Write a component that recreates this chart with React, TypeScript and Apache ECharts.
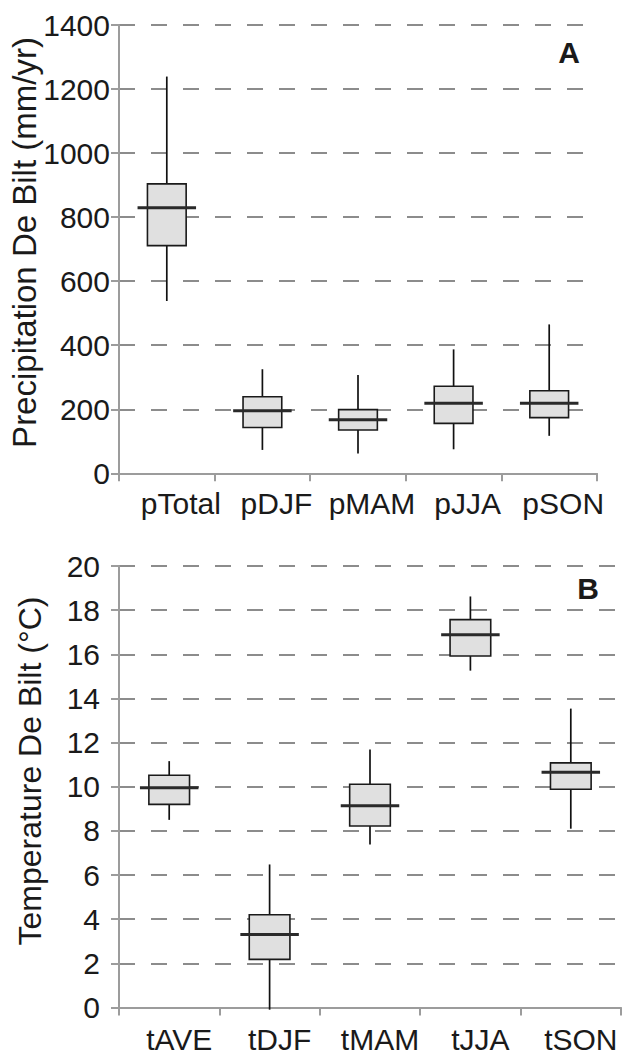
import React, { useEffect, useRef } from "react";
import * as echarts from "echarts";

// Panel A: precipitation (mm/yr)
const pCategories = ["pTotal", "pDJF", "pMAM", "pJJA", "pSON"];
const pMin = [538, 73, 62, 75, 117];
const pQ1 = [711, 143, 135, 156, 174];
const pMedian = [829, 195, 167, 219, 219];
const pQ3 = [904, 239, 199, 272, 258];
const pMax = [1239, 325, 307, 387, 465];

// Panel B: temperature (°C)
const tCategories = ["tAVE", "tDJF", "tMAM", "tJJA", "tSON"];
const tMin = [8.5, -0.1, 7.38, 15.26, 8.1];
const tQ1 = [9.2, 2.18, 8.22, 15.92, 9.89];
const tMedian = [9.95, 3.31, 9.14, 16.88, 10.66];
const tQ3 = [10.52, 4.2, 10.11, 17.57, 11.08];
const tMax = [11.16, 6.48, 11.69, 18.62, 13.54];

const FONT = '"Liberation Sans", Arial, Helvetica, sans-serif';
const AXIS_COLOR = "#9c9c9c";
const GRID_COLOR = "#8c8c8c";
const TEXT_COLOR = "#1a1a1a";

function buildData(mins: number[], q1: number[], med: number[], q3: number[], maxs: number[]) {
  return mins.map((m, i) => [i, m, q1[i], med[i], q3[i], maxs[i]]);
}

function renderBox(params: any, api: any) {
  const x = api.value(0);
  const pMinC = api.coord([x, api.value(1)]);
  const pQ1C = api.coord([x, api.value(2)]);
  const pMedC = api.coord([x, api.value(3)]);
  const pQ3C = api.coord([x, api.value(4)]);
  const pMaxC = api.coord([x, api.value(5)]);
  const band = api.size([1, 0])[0];
  const bw = band * 0.405;
  const mw = 58.5;
  const cx = pMedC[0];
  return {
    type: "group",
    children: [
      {
        type: "line",
        shape: { x1: cx, y1: pMinC[1], x2: cx, y2: pMaxC[1] },
        style: { stroke: "#111111", lineWidth: 1.7 },
      },
      {
        type: "rect",
        shape: { x: cx - bw / 2, y: pQ3C[1], width: bw, height: pQ1C[1] - pQ3C[1] },
        style: { fill: "#e0e0e0", stroke: "#1a1a1a", lineWidth: 1.6 },
      },
      {
        type: "line",
        shape: { x1: cx - mw / 2, y1: pMedC[1], x2: cx + mw / 2, y2: pMedC[1] },
        style: { stroke: "#2a2a2a", lineWidth: 3 },
      },
    ],
  };
}

export default function App() {
  const ref = useRef<HTMLDivElement>(null);

  useEffect(() => {
    document.body.style.margin = "0";
    if (!ref.current) return;
    const chart = echarts.init(ref.current, null, { renderer: "svg" });

    const axisLineStyle = { color: AXIS_COLOR, width: 2 };
    const splitLine = {
      show: true,
      lineStyle: { type: [16, 16] as any, color: GRID_COLOR, width: 2 },
    };
    const plainNum = (v: number) => String(v);

    chart.setOption({
      animation: false,
      backgroundColor: "#ffffff",
      grid: [
        { left: 119, right: 25, top: 25, height: 448.3 },
        { left: 119, right: 1, top: 566, height: 441.5 },
      ],
      xAxis: [
        {
          type: "category",
          gridIndex: 0,
          data: pCategories,
          axisLine: { show: true, lineStyle: axisLineStyle },
          axisTick: { show: true, length: 8, lineStyle: axisLineStyle },
          axisLabel: {
            fontSize: 30,
            fontFamily: FONT,
            color: TEXT_COLOR,
            margin: 15,
            padding: [0, 0, 0, 28],
            interval: 0,
          },
          splitLine: { show: false },
        },
        {
          type: "category",
          gridIndex: 1,
          data: tCategories,
          axisLine: { show: true, lineStyle: axisLineStyle },
          axisTick: { show: true, length: 8, lineStyle: axisLineStyle },
          axisLabel: {
            fontSize: 30,
            fontFamily: FONT,
            color: TEXT_COLOR,
            margin: 17,
            padding: [0, 0, 0, 20],
            interval: 0,
          },
          splitLine: { show: false },
        },
      ],
      yAxis: [
        {
          type: "value",
          gridIndex: 0,
          min: 0,
          max: 1400,
          interval: 200,
          axisLine: { show: true, lineStyle: axisLineStyle },
          axisTick: { show: true, length: 8, lineStyle: axisLineStyle },
          axisLabel: { fontSize: 30, fontFamily: FONT, color: TEXT_COLOR, margin: 9, formatter: plainNum },
          splitLine,
        },
        {
          type: "value",
          gridIndex: 1,
          min: 0,
          max: 20,
          interval: 2,
          axisLine: { show: true, lineStyle: axisLineStyle },
          axisTick: { show: true, length: 8, lineStyle: axisLineStyle },
          axisLabel: { fontSize: 30, fontFamily: FONT, color: TEXT_COLOR, margin: 19, formatter: plainNum },
          splitLine,
        },
      ],
      graphic: [
        {
          type: "text",
          x: 24,
          y: 242.5,
          rotation: Math.PI / 2,
          style: {
            text: "Precipitation De Bilt (mm/yr)",
            fontSize: 33,
            fontFamily: FONT,
            fill: TEXT_COLOR,
            align: "center",
            verticalAlign: "middle",
          },
        },
        {
          type: "text",
          x: 30,
          y: 771,
          rotation: Math.PI / 2,
          style: {
            text: "Temperature De Bilt (°C)",
            fontSize: 32,
            fontFamily: FONT,
            fill: TEXT_COLOR,
            align: "center",
            verticalAlign: "middle",
          },
        },
        {
          type: "text",
          x: 569,
          y: 52,
          style: {
            text: "A",
            fontSize: 30,
            fontWeight: "bold",
            fontFamily: FONT,
            fill: TEXT_COLOR,
            align: "center",
            verticalAlign: "middle",
          },
        },
        {
          type: "text",
          x: 588,
          y: 588,
          style: {
            text: "B",
            fontSize: 30,
            fontWeight: "bold",
            fontFamily: FONT,
            fill: TEXT_COLOR,
            align: "center",
            verticalAlign: "middle",
          },
        },
      ],
      series: [
        {
          type: "custom",
          name: "Precipitation",
          xAxisIndex: 0,
          yAxisIndex: 0,
          renderItem: renderBox,
          encode: { x: 0, y: [1, 2, 3, 4, 5] },
          data: buildData(pMin, pQ1, pMedian, pQ3, pMax),
          z: 10,
        },
        {
          type: "custom",
          name: "Temperature",
          xAxisIndex: 1,
          yAxisIndex: 1,
          renderItem: renderBox,
          encode: { x: 0, y: [1, 2, 3, 4, 5] },
          data: buildData(tMin, tQ1, tMedian, tQ3, tMax),
          z: 10,
        },
      ],
    });

    return () => {
      chart.dispose();
    };
  }, []);

  return (
    <div
      ref={ref}
      style={{ position: "absolute", left: 0, top: 0, width: 622, height: 1056 }}
    />
  );
}
